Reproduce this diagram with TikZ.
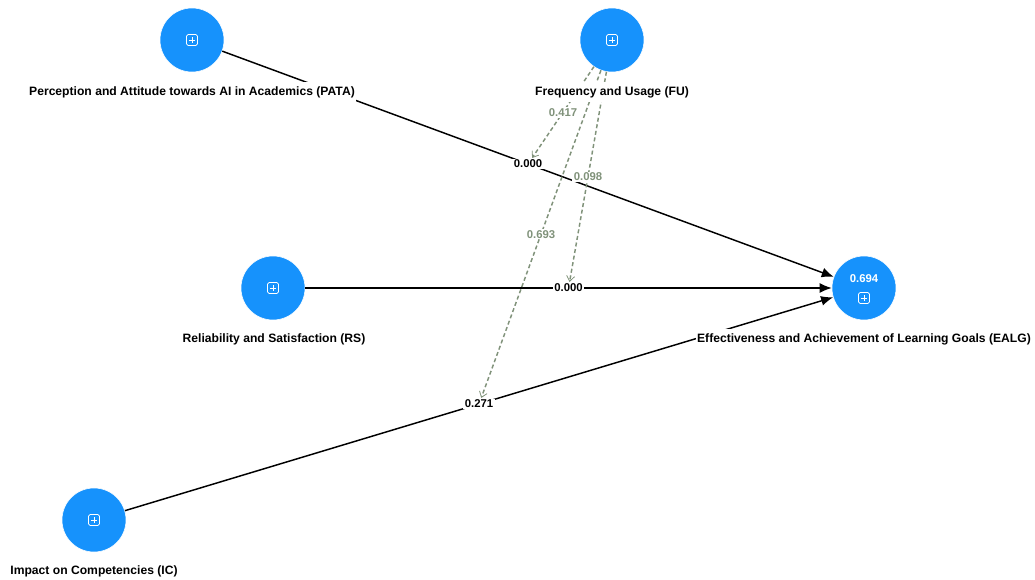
\documentclass[tikz,border=0pt]{standalone}
\usepackage{fontspec}
\setmainfont{Liberation Sans}
\usetikzlibrary{arrows.meta}
\definecolor{nodeblue}{RGB}{22,146,252}
\definecolor{modgreen}{RGB}{128,146,122}
\newcommand\plusicon[1]{%
  \begin{scope}[shift={(#1)}]
    \draw[white, line width=0.6pt, rounded corners=1.2pt] (-5.5,-5.5) rectangle (5.5,5.5);
    \draw[white, line width=0.6pt] (-3.2,0) -- (3.2,0) (0,-3.2) -- (0,3.2);
  \end{scope}}
\tikzset{
  lv/.style={circle, fill=nodeblue, draw=white, line width=0.4pt, minimum size=48pt, inner sep=0pt},
  lbl/.style={font=\bfseries\fontsize{9.1}{11}\selectfont, text=black, fill=white, inner xsep=1pt, inner ysep=3pt},
  path/.style={draw=black, line width=1.1pt, -{Latex[length=9pt,width=7.5pt]}},
  elbl/.style={font=\bfseries\fontsize{8.5}{10}\selectfont, fill=white, text=black, inner sep=1pt},
  mod/.style={draw=modgreen, line width=1.1pt, dash pattern=on 3pt off 2pt, -{Straight Barb[length=4pt,width=6pt,line width=0.6pt]}},
  mlbl/.style={font=\bfseries\fontsize{8.5}{10}\selectfont, fill=white, text=modgreen, inner sep=1pt},
}
\begin{document}
\begin{tikzpicture}[x=0.75pt,y=-0.75pt]
\useasboundingbox (0,0) rectangle (1035,580);
% latent variables
\node[lv] (PATA) at (192,40) {};
\node[lv] (FU) at (612,40) {};
\node[lv] (RS) at (273,288) {};
\node[lv] (EALG) at (864,288) {};
\node[lv] (IC) at (94,520) {};
% structural paths
\draw[path] (PATA) -- node[elbl] (e1) {0.000} (EALG);
\draw[path] (RS) -- node[elbl] (e2) {0.000} (EALG);
\draw[path] (IC) -- node[elbl] (e3) {0.271} (EALG);
% moderating paths
\draw[mod] (FU) -- node[mlbl] {0.417} (e1);
\draw[mod] (FU) -- node[mlbl] {0.098} (e2);
\draw[mod] (FU) -- node[mlbl] {0.693} (e3);
% icons
\plusicon{192,40}
\plusicon{612,40}
\plusicon{273,288}
\plusicon{94,520}
\plusicon{864,298}
\node[font=\bfseries\fontsize{8.5}{10}\selectfont, text=white, inner sep=0pt] (r2) at (864,279) {0.694};
% labels
\node[lbl] (tPATA) at (192,92) {Perception and Attitude towards AI in Academics (PATA)};
\node[lbl] (tFU) at (612,92) {Frequency and Usage (FU)};
\node[lbl] (tRS) at (274,339) {Reliability and Satisfaction (RS)};
\node[lbl] (tEALG) at (864,339) {Effectiveness and Achievement of Learning Goals (EALG)};
\node[lbl] (tIC) at (94,571) {Impact on Competencies (IC)};
\end{tikzpicture}
\end{document}
